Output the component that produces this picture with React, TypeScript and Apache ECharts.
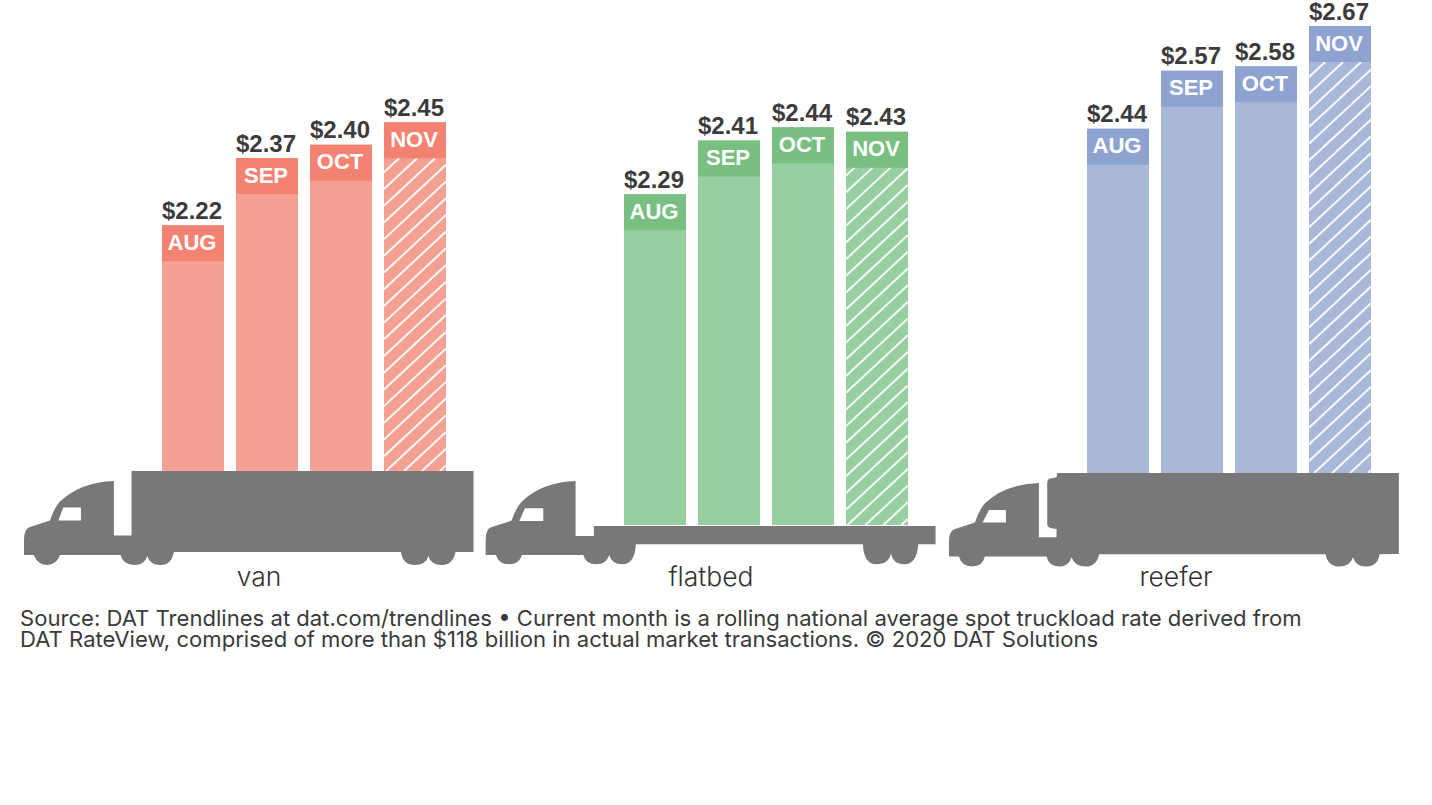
import React, { useEffect, useRef } from "react";
import * as echarts from "echarts";

const months = ["AUG", "SEP", "OCT", "NOV"];
const hatchedMonths = ["NOV"];
const vanValues = [2.22, 2.37, 2.4, 2.45];
const flatbedValues = [2.29, 2.41, 2.44, 2.43];
const reeferValues = [2.44, 2.57, 2.58, 2.67];
const equipmentNames = ["van", "flatbed", "reefer"];
const noteLines = [
  "Source: DAT Trendlines at dat.com/trendlines \u2022 Current month is a rolling national average spot truckload rate derived from",
  "DAT RateView, comprised of more than $118 billion in actual market transactions. \u00A9 2020 DAT Solutions",
];

const FONT = "'Liberation Sans', Arial, sans-serif";
const FONT_LIGHT = "Inter, 'Liberation Sans', sans-serif";
const PLOT_H = 447;
const BAR_W = 62;
const CAP_H = 36;

const panels = [
  { values: vanValues, left: 156, bottom: 471, min: 1.67, max: 2.67, body: "#f4a193", cap: "#f48272", phase: 14, labelX: 259 },
  { values: flatbedValues, left: 618, bottom: 525, min: 1.55, max: 2.55, body: "#97cfa1", cap: "#78bf81", phase: 8, labelX: 711 },
  { values: reeferValues, left: 1081, bottom: 473, min: 1.67, max: 2.67, body: "#a9b8d9", cap: "#8ea3d0", phase: 15, labelX: 1176 },
];

const vanPath =
  "M42 315 L42 270 Q42 238 58 232 L120 212 Q132 175 150 155 Q210 97 312 93 L312 257 L365 257 L365 63 L1392 63 L1392 306 L1338 306 Q1330 345 1297 345 Q1264 345 1256 318 Q1250 345 1215 345 Q1180 345 1174 306 L492 306 Q485 345 452 345 Q420 345 412 318 Q405 345 372 345 Q340 345 332 315 L150 315 Q140 345 111 345 Q82 345 72 315 Z M145 212 L213 212 L213 173 L160 173 Z";
const flatbedPath =
  "M17 285 L17 240 Q17 208 33 202 L95 182 Q107 145 125 125 Q185 67 287 63 L287 228 L342 228 L342 198 L1368 198 L1368 253 L1316 253 Q1312 313 1275 313 Q1240 313 1234 280 Q1228 313 1190 313 Q1152 313 1150 253 L468 253 Q465 313 428 313 Q395 313 388 285 Q380 313 349 313 Q318 313 310 285 L126 285 Q118 313 87 313 Q56 313 48 285 Z M118 183 L190 183 L190 145 L135 145 Z";
const reeferPath =
  "M27 320 L27 275 Q27 243 43 238 L105 218 Q117 180 135 160 Q195 103 297 99 L297 262 L350 262 L350 237 L335 235 Q322 232 322 222 L322 100 Q322 85 335 85 L350 82 L352 69 L1378 69 L1378 312 L1320 313 Q1315 350 1278 350 Q1248 350 1240 322 Q1232 350 1198 350 Q1165 350 1158 313 L478 313 Q470 350 437 350 Q405 350 395 322 Q387 350 358 350 Q327 350 320 320 L135 320 Q127 350 97 350 Q65 350 57 320 Z M128 218 L198 218 L198 180 L147 180 Z";

echarts.graphic.registerShape("truckVan", echarts.graphic.extendPath(vanPath, {}));
echarts.graphic.registerShape("truckFlatbed", echarts.graphic.extendPath(flatbedPath, {}));
echarts.graphic.registerShape("truckReefer", echarts.graphic.extendPath(reeferPath, {}));

const trucks = [
  { type: "truckVan", x: 10, y: 450 },
  { type: "truckFlatbed", x: 480, y: 460 },
  { type: "truckReefer", x: 940, y: 450 },
];

function hatchLines(x0: number, y0: number, w: number, h: number, phase: number) {
  const slope = 0.93;
  const period = 16.7;
  const out: any[] = [];
  const x1 = x0 + w;
  const y1 = y0 + h;
  // each line: y = c - slope * (x - x0), c = y at the left edge
  for (let c = y0 + phase - period * 6; c < y1 + slope * w; c += period) {
    let ax = x0, ay = c;
    if (ay > y1) { ax = x0 + (ay - y1) / slope; ay = y1; }
    let bx = x1, by = c - slope * w;
    if (by < y0) { bx = x0 + (c - y0) / slope; by = y0; }
    if (ax >= x1 || bx <= x0 || ay <= y0) continue;
    out.push({
      type: "line",
      shape: { x1: ax, y1: ay, x2: bx, y2: by },
      style: { stroke: "#ffffff", lineWidth: 2, opacity: 0.92 },
    });
  }
  return out;
}

function buildOption() {
  const grid = panels.map((p) => ({
    left: p.left,
    top: p.bottom - PLOT_H,
    width: (BAR_W + 12) * months.length,
    height: PLOT_H,
  }));
  const xAxis = panels.map((_, i) => ({
    type: "category",
    gridIndex: i,
    data: months,
    show: false,
  }));
  const yAxis = panels.map((p, i) => ({
    type: "value",
    gridIndex: i,
    min: p.min,
    max: p.max,
    show: false,
    splitLine: { show: false },
  }));
  const series: any[] = [];
  panels.forEach((p, i) => {
    series.push({
      type: "bar",
      xAxisIndex: i,
      yAxisIndex: i,
      data: p.values,
      barWidth: BAR_W,
      itemStyle: { color: p.body },
      label: {
        show: true,
        position: "top",
        distance: 5,
        offset: [-1, 0],
        lineHeight: 20,
        formatter: (d: any) => "$" + d.value.toFixed(2),
        fontFamily: FONT,
        fontWeight: "bold",
        fontSize: 24,
        color: "#3c3c3c",
      },
      silent: true,
    });
    series.push({
      type: "custom",
      xAxisIndex: i,
      yAxisIndex: i,
      data: p.values.map((v, k) => [k, v]),
      encode: { x: 0, y: 1 },
      silent: true,
      z: 5,
      renderItem: (_params: any, api: any) => {
        const k = api.value(0);
        const top = api.coord([k, api.value(1)]);
        const base = api.coord([k, p.min]);
        const x0 = top[0] - BAR_W / 2;
        const y0 = top[1];
        const children: any[] = [];
        if (hatchedMonths.includes(months[k])) {
          children.push(
            ...hatchLines(x0, y0 + CAP_H, BAR_W, base[1] - y0 - CAP_H, p.phase)
          );
        }
        children.push({
          type: "rect",
          shape: { x: x0, y: y0, width: BAR_W, height: CAP_H },
          style: { fill: p.cap },
        });
        children.push({
          type: "text",
          style: {
            x: top[0] - 1,
            y: y0 + CAP_H / 2 - 1,
            text: months[k],
            fill: "#ffffff",
            font: `bold 22px ${FONT}`,
            align: "center",
            verticalAlign: "middle",
          },
        });
        return { type: "group", children };
      },
    });
  });

  const graphic: any[] = [];
  trucks.forEach((t) => {
    graphic.push({
      type: t.type,
      x: t.x,
      y: t.y,
      scaleX: 1 / 3,
      scaleY: 1 / 3,
      z: 20,
      silent: true,
      style: { fill: "#787878" },
    });
  });
  equipmentNames.forEach((name, i) => {
    graphic.push({
      type: "text",
      x: panels[i].labelX,
      y: 576,
      z: 20,
      silent: true,
      style: {
        text: name,
        fill: "#333333",
        font: `300 26.5px ${FONT_LIGHT}`,
        align: "center",
        verticalAlign: "middle",
      },
    });
  });
  noteLines.forEach((line, i) => {
    graphic.push({
      type: "text",
      x: 20,
      y: 618 + i * 21,
      z: 20,
      silent: true,
      style: {
        text: line,
        fill: "#3a3a3a",
        font: `22.1px ${FONT_LIGHT}`,
        lineHeight: 19,
        align: "left",
        verticalAlign: "middle",
      },
    });
  });

  return {
    animation: false,
    backgroundColor: "#ffffff",
    tooltip: { show: false },
    grid,
    xAxis,
    yAxis,
    series,
    graphic,
  };
}

export default function App() {
  const ref = useRef<HTMLDivElement>(null);
  useEffect(() => {
    if (!ref.current) return;
    document.body.style.margin = "0";
    const chart = echarts.init(ref.current, undefined, { renderer: "svg" });
    chart.setOption(buildOption() as any);
    return () => chart.dispose();
  }, []);
  return <div ref={ref} style={{ width: 1432, height: 805 }} />;
}
